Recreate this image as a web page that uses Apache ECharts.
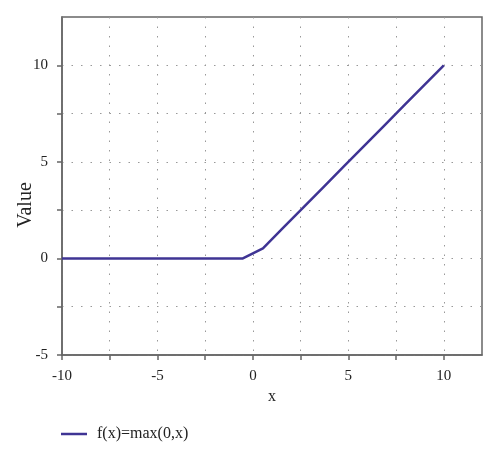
<!DOCTYPE html>
<html>
<head>
<meta charset="utf-8">
<script src="https://cdn.jsdelivr.net/npm/echarts@6/dist/echarts.min.js"></script>
<style>html,body{margin:0;padding:0;background:#fff}#c{width:500px;height:459px}</style>
</head>
<body>
<div id="c"></div>
<script>
var xValues = [-10, -8.947, -7.895, -6.842, -5.789, -4.737, -3.684, -2.632, -1.579, -0.526,
               0.526, 1.579, 2.632, 3.684, 4.737, 5.789, 6.842, 7.895, 8.947, 10];
var yValues = [0, 0, 0, 0, 0, 0, 0, 0, 0, 0,
               0.526, 1.579, 2.632, 3.684, 4.737, 5.789, 6.842, 7.895, 8.947, 10];
var seriesName = 'f(x)=max(0,x)';
var xTickLabels = [-10, -5, 0, 5, 10];
var xTicks = [-10, -7.5, -5, -2.5, 0, 2.5, 5, 7.5, 10];
var yTickLabels = [-5, 0, 5, 10];
var yTicks = [-5, -2.5, 0, 2.5, 5, 7.5, 10];

var font = 'Liberation Serif';
var axisColor = '#666';
var textColor = '#222';
var chart = echarts.init(document.getElementById('c'));
var pts = xValues.map(function (x, i) { return [x, yValues[i]]; });
chart.setOption({
  animation: false,
  textStyle: { fontFamily: font },
  grid: { left: 62, right: 18, top: 17, bottom: 104, containLabel: false, outerBoundsMode: 'none',
    show: true, borderColor: axisColor, borderWidth: 1.5, backgroundColor: 'transparent' },
  legend: {
    left: 56, top: 421, icon: 'path://M0,0 L26,0 L26,2.5 L0,2.5 Z', itemWidth: 26, itemHeight: 3, itemGap: 10,
    textStyle: { fontFamily: font, fontSize: 16, color: textColor, padding: [0, 0, 0, 5] },
    data: [seriesName]
  },
  xAxis: {
    type: 'value', min: -10, max: 12, interval: 2.5,
    name: 'x', nameLocation: 'middle', nameGap: 34, nameMoveOverlap: false,
    nameTextStyle: { fontFamily: font, fontSize: 16, color: textColor },
    axisLine: { show: true, onZero: false, lineStyle: { color: axisColor, width: 1.5 } },
    axisTick: { show: true, length: 5, customValues: xTicks, lineStyle: { color: axisColor, width: 1.5 } },
    axisLabel: { fontFamily: font, fontSize: 15, color: textColor, margin: 14, customValues: xTickLabels,
      formatter: function (v) { return String(v); } },
    splitLine: { show: true, lineStyle: { color: '#999', width: 1, type: [1.5, 8] } }
  },
  yAxis: {
    type: 'value', min: -5, max: 12.5, interval: 2.5,
    name: 'Value', nameLocation: 'middle', nameGap: 26, nameMoveOverlap: false,
    nameTextStyle: { fontFamily: font, fontSize: 20, color: textColor, padding: [0, 38, 0, 0] },
    axisLine: { show: true, onZero: false, lineStyle: { color: axisColor, width: 1.5 } },
    axisTick: { show: true, length: 5, customValues: yTicks, lineStyle: { color: axisColor, width: 1.5 } },
    axisLabel: { fontFamily: font, fontSize: 15, color: textColor, margin: 14, customValues: yTickLabels,
      formatter: function (v) { return String(v); } },
    splitLine: { show: true, lineStyle: { color: '#999', width: 1, type: [1.5, 8] } }
  },
  series: [{
    name: seriesName, type: 'line', data: pts, showSymbol: false, symbol: 'none',
    lineStyle: { color: '#3f3494', width: 2.5 }, itemStyle: { color: '#3f3494' }
  }]
});
</script>
</body>
</html>
